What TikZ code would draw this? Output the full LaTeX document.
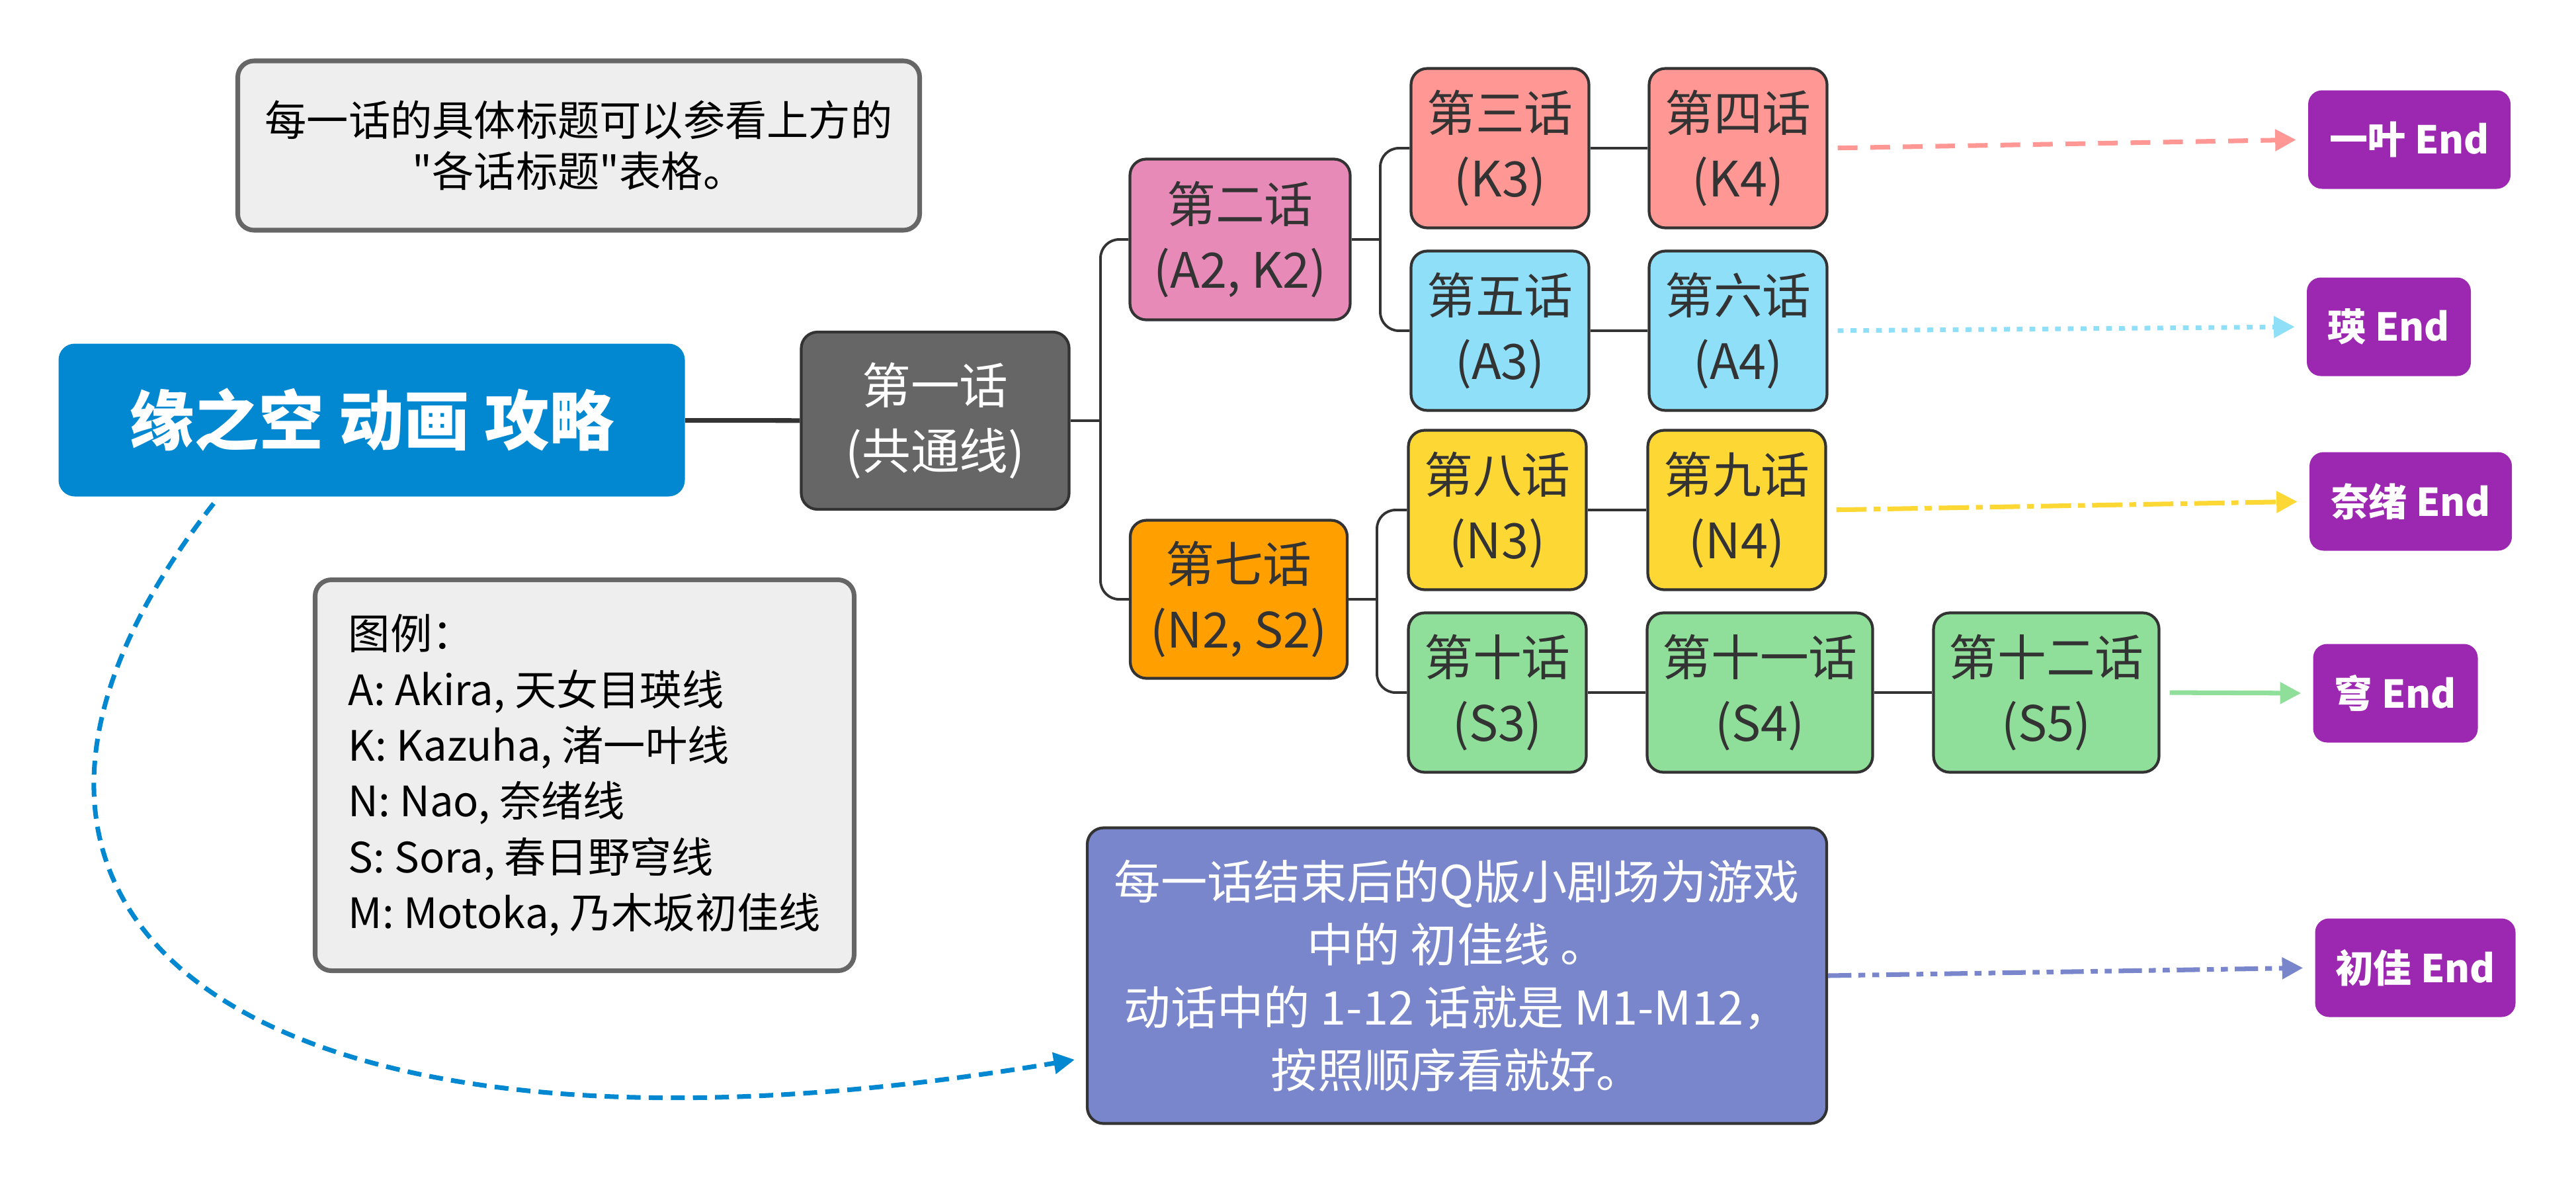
\documentclass[tikz,border=0pt]{standalone}
\usepackage{fontspec}
\setmainfont{Noto Sans CJK SC}[Ligatures=TeXOff]
\usetikzlibrary{arrows.meta}

\definecolor{titleblue}{HTML}{0288D1}
\definecolor{inkgray}{HTML}{333333}
\definecolor{notegray}{HTML}{EEEEEE}
\definecolor{notedraw}{HTML}{666666}
\definecolor{commongray}{HTML}{666666}
\definecolor{pinkfill}{HTML}{E88AB8}
\definecolor{orangefill}{HTML}{FFA000}
\definecolor{kcol}{HTML}{FF9794}
\definecolor{acol}{HTML}{8FDFF8}
\definecolor{ncol}{HTML}{FDD835}
\definecolor{scol}{HTML}{8FDE99}
\definecolor{mcol}{HTML}{7986CB}
\definecolor{endfill}{HTML}{9C27B0}

\begin{document}
\begin{tikzpicture}[>={Triangle[length=9pt,width=9pt]},
  ep/.style={draw=inkgray,line width=1.2pt,rounded corners=7pt,text=inkgray,
    font=\fontsize{21}{28}\selectfont,align=center,inner sep=0pt,
    minimum width=2.69cm,minimum height=2.41cm},
  wideep/.style={ep,minimum width=3.41cm},
  endbox/.style={fill=endfill,rounded corners=6pt,text=white,inner sep=0pt,
    font=\fontsize{16.5}{20}\selectfont\bfseries,minimum height=1.49cm},
  notebox/.style={fill=notegray,draw=notedraw,line width=2pt,rounded corners=7pt,
    inner sep=0pt,text=black},
  link/.style={draw=inkgray,line width=1.1pt},
  route/.style={->,line width=2pt,shorten >=5pt,shorten <=4pt}]
  \useasboundingbox (0,0) rectangle (38.95,-17.92);

  % notes on the left
  \node[notebox,minimum width=10.31cm,minimum height=2.56cm,align=center,
    font=\fontsize{18}{22}\selectfont] (tip) at (8.75,-2.20)
    {每一话的具体标题可以参看上方的\\"各话标题"表格。};
  \node[notebox,minimum width=8.15cm,minimum height=5.91cm,align=left,
    font=\fontsize{18}{24}\selectfont] (legend) at (8.84,-11.72)
    {图例：\\A: Akira, 天女目瑛线\\K: Kazuha, 渚一叶线\\N: Nao, 奈绪线\\S: Sora, 春日野穹线\\M: Motoka, 乃木坂初佳线};

  % root and common route
  \node[fill=titleblue,rounded corners=7pt,text=white,minimum width=9.47cm,
    minimum height=2.31cm,font=\fontsize{28}{34}\selectfont\bfseries] (title)
    at (5.62,-6.35) {缘之空 动画 攻略};
  \node[ep,fill=commongray,text=white,minimum width=4.05cm,minimum height=2.68cm]
    (n1) at (14.14,-6.36) {第一话\\(共通线)};

  % branches
  \node[ep,fill=pinkfill,minimum width=3.33cm,minimum height=2.43cm] (n2) at (18.75,-3.62) {第二话\\(A2, K2)};
  \node[ep,fill=orangefill,minimum width=3.28cm,minimum height=2.39cm] (n7) at (18.73,-9.06) {第七话\\(N2, S2)};
  \node[ep,fill=kcol] (n3) at (22.68,-2.24) {第三话\\(K3)};
  \node[ep,fill=kcol] (n4) at (26.28,-2.24) {第四话\\(K4)};
  \node[ep,fill=acol] (n5) at (22.68,-5.00) {第五话\\(A3)};
  \node[ep,fill=acol] (n6) at (26.28,-5.00) {第六话\\(A4)};
  \node[ep,fill=ncol] (n8) at (22.64,-7.71) {第八话\\(N3)};
  \node[ep,fill=ncol] (n9) at (26.26,-7.71) {第九话\\(N4)};
  \node[ep,fill=scol] (n10) at (22.64,-10.47) {第十话\\(S3)};
  \node[wideep,fill=scol] (n11) at (26.61,-10.47) {第十一话\\(S4)};
  \node[wideep,fill=scol] (n12) at (30.94,-10.47) {第十二话\\(S5)};

  \node[fill=mcol,draw=inkgray,line width=1.2pt,rounded corners=7pt,text=white,
    minimum width=11.18cm,minimum height=4.47cm,align=center,
    font=\fontsize{20}{27}\selectfont] (qban) at (22.03,-14.75)
    {每一话结束后的Q版小剧场为游戏\\中的 初佳线 。\\动话中的 1-12 话就是 M1-M12，\\按照顺序看就好。};

  % endings
  \node[endbox,minimum width=3.06cm] (endK) at (36.43,-2.11) {一叶 End};
  \node[endbox,minimum width=2.48cm] (endA) at (36.12,-4.94) {瑛 End};
  \node[endbox,minimum width=3.06cm] (endN) at (36.45,-7.58) {奈绪 End};
  \node[endbox,minimum width=2.49cm] (endS) at (36.22,-10.48) {穹 End};
  \node[endbox,minimum width=3.03cm] (endM) at (36.52,-14.63) {初佳 End};

  % tree links
  \coordinate (b1) at (16.64,-6.36);
  \coordinate (b2) at (20.87,-3.62);
  \coordinate (b7) at (20.82,-9.06);
  \draw[link,line width=2pt] (title) -- (n1);
  \draw[link] (n1.east) -- (b1);
  \draw[link,rounded corners=8pt] (n2.west) -| (b1) |- (n7.west);
  \draw[link] (n2.east) -- (b2);
  \draw[link,rounded corners=8pt] (n3.west) -| (b2) |- (n5.west);
  \draw[link] (n7.east) -- (b7);
  \draw[link,rounded corners=8pt] (n8.west) -| (b7) |- (n10.west);
  \draw[link] (n3) -- (n4);
  \draw[link] (n5) -- (n6);
  \draw[link] (n8) -- (n9);
  \draw[link] (n10) -- (n11);
  \draw[link] (n11) -- (n12);

  % routes to the endings
  \draw[route,kcol,dash pattern=on 8.5pt off 5.5pt] (n4.east) -- (endK.west);
  \draw[route,acol,dash pattern=on 2.5pt off 3pt] (n6.east) -- (endA.west);
  \draw[route,ncol,dash pattern=on 13pt off 3pt on 3pt off 3pt] (n9.east) -- (endN.west);
  \draw[route,scol] (n12.east) -- (endS.west);
  \draw[route,mcol,shorten <=0pt,dash pattern=on 10pt off 3pt on 3pt off 3pt on 3pt off 3pt] (qban.east) -- (endM.west);
  \draw[->,titleblue,line width=2pt,dash pattern=on 6pt off 3.5pt]
    ([xshift=-2.39cm,yshift=-0.1cm]title.south) .. controls (-1.7,-13.91) and (3.73,-18.13) .. ([xshift=-0.17cm,yshift=-1.27cm]qban.west);
\end{tikzpicture}
\end{document}
